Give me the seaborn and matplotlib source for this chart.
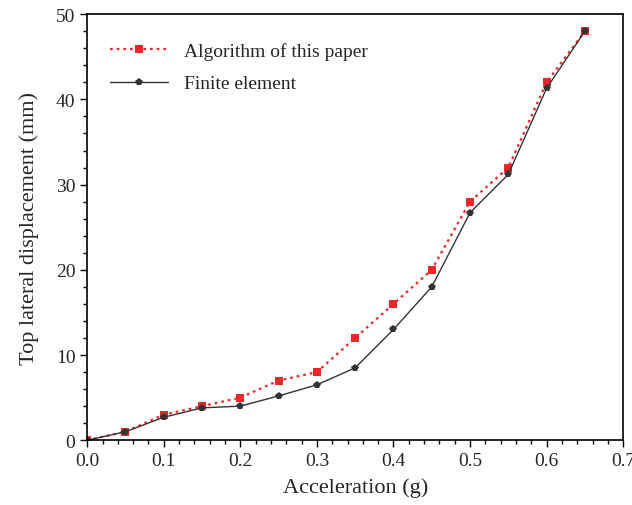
import numpy as np
import pandas as pd
import seaborn as sns
import matplotlib.pyplot as plt
from matplotlib.ticker import MultipleLocator

accel = [0.0, 0.05, 0.1, 0.15, 0.2, 0.25, 0.3, 0.35, 0.4, 0.45, 0.5, 0.55, 0.6, 0.65]
algorithm = [0.0, 1.0, 3.0, 4.0, 5.0, 7.0, 8.0, 12.0, 16.0, 20.0, 28.0, 32.0, 42.0, 48.0]
finite = [0.0, 1.0, 2.7, 3.8, 4.0, 5.2, 6.5, 8.5, 13.0, 18.0, 26.7, 31.2, 41.3, 48.0]

df = pd.DataFrame({"accel": accel, "algorithm": algorithm, "finite": finite})

sns.set_style("ticks")
plt.rcParams['font.family'] = ['Liberation Serif', 'DejaVu Serif']

fig = plt.figure(figsize=(6.32, 5.06), dpi=100)
ax = fig.add_axes([0.138, 0.128, 0.848, 0.842])

sns.lineplot(data=df, x="accel", y="algorithm", ax=ax, color="#f0262a",
             linestyle=(0, (1.2, 1.8)), linewidth=1.6, marker="s", markersize=5.5,
             markeredgewidth=0, label="Algorithm of this paper")
sns.lineplot(data=df, x="accel", y="finite", ax=ax, color="#333333",
             linewidth=1.0, marker="p", markersize=6, markeredgewidth=0,
             label="Finite element")

ax.set_xlim(0, 0.7)
ax.set_ylim(0, 50)
ax.xaxis.set_major_locator(MultipleLocator(0.1))
ax.xaxis.set_minor_locator(MultipleLocator(0.02))
ax.yaxis.set_major_locator(MultipleLocator(10))
ax.yaxis.set_minor_locator(MultipleLocator(2))
ax.tick_params(which="major", direction="out", length=5, width=1, labelsize=14, color="black")
ax.tick_params(which="minor", direction="out", length=3, width=1, color="black")
for s in ax.spines.values():
    s.set_linewidth(1.2)
    s.set_color("black")

ax.set_xlabel("Acceleration (g)", fontsize=16, labelpad=6)
ax.set_ylabel("Top lateral displacement (mm)", fontsize=16, labelpad=12)

ax.legend(loc="upper left", bbox_to_anchor=(0.01, 0.975), frameon=False,
          fontsize=14, handlelength=3.0, handletextpad=0.8, labelspacing=0.75)

fig.savefig("out.png", dpi=100)
